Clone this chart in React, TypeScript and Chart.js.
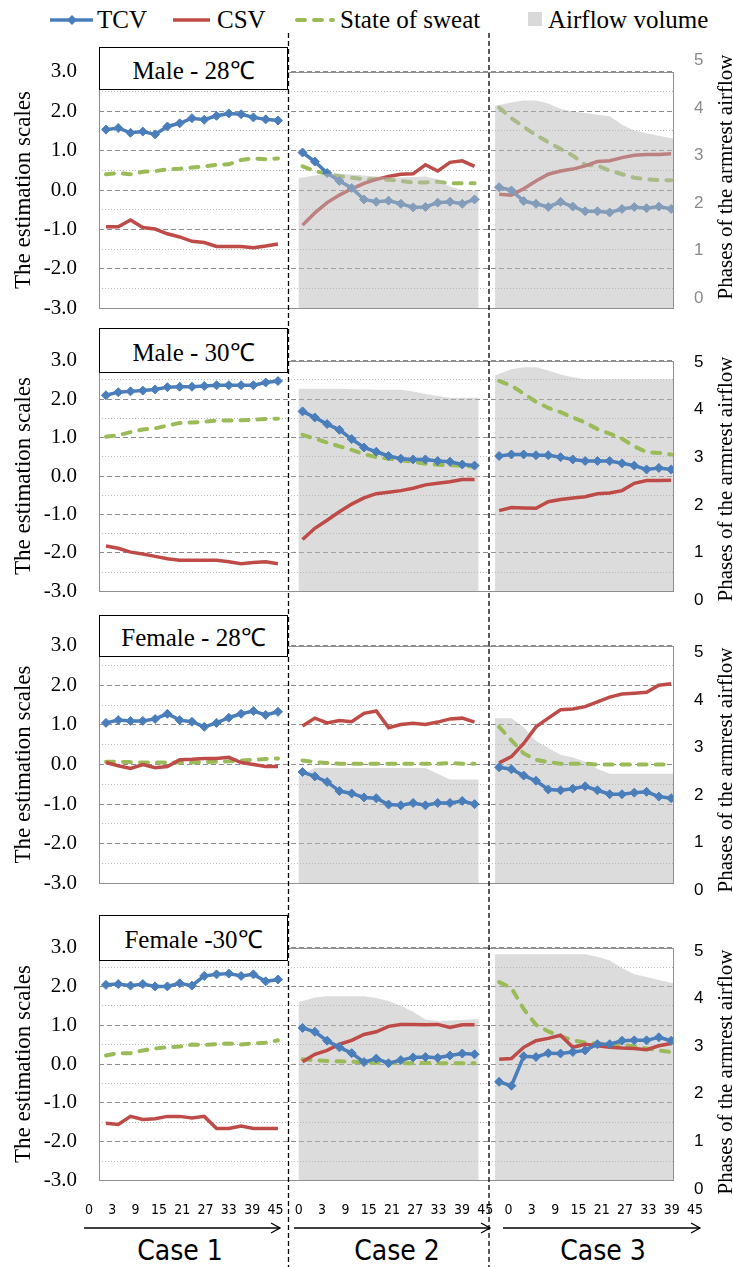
import React, { useEffect, useRef } from "react";
import { Chart, registerables } from "chart.js";

Chart.register(...registerables);

// ---------------- data ----------------
const TIMES = [3, 6, 9, 12, 15, 18, 21, 24, 27, 30, 33, 36, 39, 42, 45];
const AIR_TIMES = [2, 6, 9, 12, 15, 18, 21, 24, 27, 30, 33, 36, 39, 42, 46];
const CASE_NAMES = ["Case 1", "Case 2", "Case 3"];
const AXIS_TICK_LABELS = ["0", "3", "9", "15", "21", "27", "33", "39", "45"];
const LEFT_TICKS = [-3, -2, -1, 0, 1, 2, 3];
const HALF_TICKS = [-2.5, -1.5, -0.5, 0.5, 1.5, 2.5];
const RIGHT_TICKS = [0, 1, 2, 3, 4, 5];
const PANEL_TITLES = ["Male - 28\u2103", "Male - 30\u2103", "Female - 28\u2103", "Female -30\u2103"];
const SERIES_NAMES = ["TCV", "CSV", "State of sweat", "Airflow volume"];

// Male - 28
const M28_TCV = [
  [1.53, 1.57, 1.45, 1.48, 1.41, 1.61, 1.69, 1.82, 1.78, 1.88, 1.94, 1.92, 1.84, 1.79, 1.76],
  [0.95, 0.72, 0.43, 0.23, 0.05, -0.24, -0.3, -0.27, -0.35, -0.44, -0.43, -0.32, -0.3, -0.35, -0.24],
  [0.07, -0.01, -0.28, -0.35, -0.43, -0.3, -0.42, -0.54, -0.54, -0.57, -0.48, -0.43, -0.46, -0.42, -0.48],
];
const M28_CSV = [
  [-0.93, -0.93, -0.76, -0.95, -0.99, -1.11, -1.19, -1.3, -1.33, -1.43, -1.43, -1.43, -1.46, -1.42, -1.37],
  [-0.89, -0.58, -0.32, -0.13, 0.03, 0.17, 0.27, 0.34, 0.4, 0.41, 0.64, 0.48, 0.7, 0.74, 0.6],
  [-0.11, -0.13, 0.03, 0.23, 0.4, 0.48, 0.53, 0.61, 0.72, 0.74, 0.82, 0.88, 0.9, 0.9, 0.92],
];
const M28_SWEAT = [
  [0.4, 0.43, 0.4, 0.46, 0.48, 0.52, 0.54, 0.57, 0.6, 0.64, 0.65, 0.76, 0.8, 0.78, 0.8],
  [0.6, 0.48, 0.41, 0.35, 0.31, 0.27, 0.27, 0.26, 0.23, 0.19, 0.19, 0.21, 0.17, 0.17, 0.17],
  [2.09, 1.82, 1.6, 1.39, 1.21, 1.04, 0.87, 0.64, 0.62, 0.49, 0.4, 0.31, 0.27, 0.25, 0.25],
];
const M28_AIR = [
  [2.52, 2.58, 2.62, 2.62, 2.6, 2.58, 2.56, 2.55, 2.54, 2.55, 2.56, 2.5, 2.35, 2.27, 2.27],
  [4.05, 4.12, 4.16, 4.16, 4.1, 3.98, 3.93, 3.9, 3.86, 3.83, 3.65, 3.53, 3.47, 3.42, 3.35],
];

// Male - 30
const M30_TCV = [
  [2.1, 2.18, 2.2, 2.22, 2.25, 2.31, 2.32, 2.32, 2.34, 2.36, 2.36, 2.36, 2.36, 2.43, 2.47],
  [1.68, 1.52, 1.35, 1.2, 0.96, 0.74, 0.63, 0.52, 0.45, 0.43, 0.43, 0.39, 0.37, 0.3, 0.27],
  [0.52, 0.56, 0.56, 0.54, 0.54, 0.49, 0.43, 0.39, 0.39, 0.39, 0.33, 0.27, 0.17, 0.21, 0.17],
];
const M30_CSV = [
  [-1.82, -1.88, -1.98, -2.03, -2.09, -2.15, -2.19, -2.19, -2.19, -2.19, -2.23, -2.28, -2.25, -2.23, -2.28],
  [-1.65, -1.36, -1.15, -0.93, -0.73, -0.57, -0.46, -0.42, -0.38, -0.32, -0.23, -0.19, -0.15, -0.09, -0.09],
  [-0.9, -0.82, -0.83, -0.84, -0.67, -0.61, -0.57, -0.54, -0.46, -0.44, -0.38, -0.19, -0.12, -0.12, -0.11],
];
const M30_SWEAT = [
  [1.02, 1.06, 1.14, 1.21, 1.24, 1.31, 1.38, 1.39, 1.41, 1.44, 1.44, 1.45, 1.46, 1.48, 1.49],
  [1.07, 0.97, 0.87, 0.77, 0.68, 0.57, 0.49, 0.45, 0.41, 0.37, 0.32, 0.29, 0.28, 0.27, 0.24],
  [2.47, 2.35, 2.14, 1.93, 1.77, 1.66, 1.52, 1.39, 1.22, 1.1, 0.97, 0.77, 0.62, 0.6, 0.56],
];
const M30_AIR = [
  [4.44, 4.44, 4.44, 4.44, 4.43, 4.43, 4.42, 4.42, 4.42, 4.38, 4.33, 4.29, 4.25, 4.25, 4.25],
  [4.72, 4.85, 4.89, 4.89, 4.82, 4.74, 4.68, 4.64, 4.64, 4.64, 4.64, 4.64, 4.64, 4.64, 4.64],
];

// Female - 28
const F28_TCV = [
  [1.05, 1.12, 1.1, 1.1, 1.15, 1.28, 1.12, 1.08, 0.95, 1.05, 1.18, 1.28, 1.35, 1.25, 1.33],
  [-0.19, -0.3, -0.44, -0.67, -0.73, -0.83, -0.85, -1.01, -1.03, -0.97, -1.03, -0.97, -0.97, -0.92, -1.0],
  [-0.07, -0.12, -0.28, -0.41, -0.63, -0.65, -0.61, -0.55, -0.65, -0.75, -0.75, -0.71, -0.69, -0.81, -0.85],
];
const F28_CSV = [
  [0.05, -0.03, -0.1, 0.0, -0.08, -0.05, 0.12, 0.13, 0.15, 0.15, 0.18, 0.05, 0.0, -0.05, -0.05],
  [0.97, 1.17, 1.05, 1.11, 1.08, 1.29, 1.35, 0.93, 1.01, 1.04, 1.01, 1.07, 1.15, 1.17, 1.07],
  [0.04, 0.2, 0.53, 0.95, 1.17, 1.38, 1.4, 1.46, 1.58, 1.7, 1.78, 1.8, 1.82, 2.0, 2.04],
];
const F28_SWEAT = [
  [0.07, 0.07, 0.06, 0.05, 0.05, 0.05, 0.05, 0.05, 0.06, 0.07, 0.08, 0.1, 0.12, 0.14, 0.15],
  [0.1, 0.06, 0.04, 0.02, 0.02, 0.02, 0.02, 0.02, 0.02, 0.02, 0.02, 0.02, 0.04, 0.02, 0.02],
  [0.95, 0.61, 0.28, 0.12, 0.06, 0.02, 0.02, 0.02, 0.0, 0.0, 0.0, 0.0, 0.0, 0.0, 0.0],
];
const F28_AIR = [
  [2.4, 2.57, 2.57, 2.57, 2.57, 2.57, 2.57, 2.57, 2.57, 2.57, 2.57, 2.45, 2.33, 2.33, 2.33],
  [3.62, 3.62, 3.43, 3.14, 2.99, 2.85, 2.79, 2.71, 2.55, 2.45, 2.45, 2.45, 2.45, 2.45, 2.45],
];

// Female - 30
const F30_TCV = [
  [2.04, 2.06, 2.02, 2.06, 2.0, 2.0, 2.08, 2.02, 2.27, 2.31, 2.33, 2.27, 2.31, 2.13, 2.18],
  [0.93, 0.83, 0.6, 0.43, 0.28, 0.05, 0.14, 0.02, 0.1, 0.17, 0.18, 0.16, 0.22, 0.27, 0.25],
  [-0.46, -0.56, 0.2, 0.18, 0.28, 0.27, 0.31, 0.35, 0.51, 0.51, 0.6, 0.61, 0.61, 0.69, 0.6],
];
const F30_CSV = [
  [-1.53, -1.56, -1.35, -1.43, -1.41, -1.35, -1.35, -1.39, -1.35, -1.66, -1.66, -1.6, -1.66, -1.66, -1.66],
  [0.06, 0.25, 0.35, 0.51, 0.61, 0.76, 0.83, 0.97, 1.02, 1.02, 1.01, 1.02, 0.94, 1.01, 1.01],
  [0.12, 0.14, 0.43, 0.6, 0.66, 0.74, 0.43, 0.51, 0.47, 0.43, 0.41, 0.4, 0.37, 0.47, 0.53],
];
const F30_SWEAT = [
  [0.22, 0.28, 0.28, 0.35, 0.4, 0.43, 0.45, 0.5, 0.49, 0.51, 0.53, 0.5, 0.53, 0.55, 0.61],
  [0.12, 0.1, 0.08, 0.07, 0.06, 0.04, 0.03, 0.03, 0.02, 0.02, 0.03, 0.02, 0.02, 0.02, 0.02],
  [2.11, 1.96, 1.42, 1.01, 0.84, 0.72, 0.61, 0.55, 0.53, 0.51, 0.5, 0.45, 0.4, 0.35, 0.31],
];
const F30_AIR = [
  [3.92, 4.02, 4.05, 4.05, 4.05, 4.05, 4.01, 3.95, 3.85, 3.72, 3.56, 3.53, 3.54, 3.55, 3.57],
  [4.93, 4.93, 4.93, 4.93, 4.93, 4.93, 4.93, 4.93, 4.88, 4.8, 4.64, 4.51, 4.45, 4.39, 4.31],
];

const PANEL_SERIES = [
  { tcv: M28_TCV, csv: M28_CSV, sweat: M28_SWEAT, air: M28_AIR },
  { tcv: M30_TCV, csv: M30_CSV, sweat: M30_SWEAT, air: M30_AIR },
  { tcv: F28_TCV, csv: F28_CSV, sweat: F28_SWEAT, air: F28_AIR },
  { tcv: F30_TCV, csv: F30_CSV, sweat: F30_SWEAT, air: F30_AIR },
];

// ---------------- styles / layout ----------------
const BLUE = "#4A7EBB";
const RED = "#BE4B48";
const GREEN = "#9BBB59";
const AIR_FILL = "rgba(186,186,186,0.5)";
const AIR_LEGEND = "#D9D9D9";
const SERIF = '"Liberation Serif", "Times New Roman", serif';
const SANS = '"Liberation Sans", Arial, sans-serif';
const NARROW = '"Liberation Sans Narrow", "DejaVu Sans Condensed", "Liberation Sans", sans-serif';

const W = 733;
const H = 1267;
const CASE_SHIFT = 48;
const X_MIN = 1.3;
const X_MAX = 141.7;
const PAD = 30;
const LEFT_W = 99;
const RIGHT_W = 59;

const LAYOUT = [
  { top: 67, bottom: 313, y2min: -0.22, y2max: 4.77, boxTop: 47, boxH: 43, rightColor: "#8a8a8a", airOnTop: true, rightTitleY: 177 },
  { top: 356, bottom: 596, y2min: 0.19, y2max: 5.03, boxTop: 328, boxH: 45, rightColor: "#000000", airOnTop: false, rightTitleY: 479 },
  { top: 641, bottom: 888, y2min: 0.14, y2max: 5.15, boxTop: 615, boxH: 42, rightColor: "#000000", airOnTop: false, rightTitleY: 770 },
  { top: 943, bottom: 1185, y2min: 0.18, y2max: 5.07, boxTop: 915, boxH: 46, rightColor: "#000000", airOnTop: false, rightTitleY: 1072 },
];

const frame = {
  id: "frame",
  afterDraw(chart: any) {
    const { ctx, chartArea: a } = chart;
    ctx.save();
    ctx.strokeStyle = "#8f8f8f";
    ctx.lineWidth = 1;
    ctx.setLineDash([]);
    ctx.strokeRect(Math.round(a.left) + 0.5, Math.round(a.top) + 0.5, Math.round(a.right - a.left) - 1, Math.round(a.bottom - a.top) - 1);
    ctx.restore();
  },
};

function caseX(c: number, t: number) {
  return c * CASE_SHIFT + t;
}

function buildDatasets(s: any, airOnTop: boolean) {
  const ds: any[] = [];
  for (let c = 0; c < 3; c++) {
    ds.push({
      label: SERIES_NAMES[0],
      data: TIMES.map((t, i) => ({ x: caseX(c, t), y: s.tcv[c][i] })),
      borderColor: BLUE,
      backgroundColor: BLUE,
      borderWidth: 3.5,
      pointStyle: "rectRot",
      pointRadius: 4.5,
      pointBackgroundColor: BLUE,
      pointBorderColor: BLUE,
      pointBorderWidth: 1,
      yAxisID: "y",
      order: 1,
    });
    ds.push({
      label: SERIES_NAMES[1],
      data: TIMES.map((t, i) => ({ x: caseX(c, t), y: s.csv[c][i] })),
      borderColor: RED,
      backgroundColor: RED,
      borderWidth: 3.5,
      pointRadius: 0,
      yAxisID: "y",
      order: 2,
    });
    ds.push({
      label: SERIES_NAMES[2],
      data: TIMES.map((t, i) => ({ x: caseX(c, t), y: s.sweat[c][i] })),
      borderColor: GREEN,
      backgroundColor: GREEN,
      borderWidth: 4,
      borderDash: [8, 9],
      borderCapStyle: "round",
      pointRadius: 0,
      yAxisID: "y",
      order: 3,
    });
  }
  s.air.forEach((vals: number[], k: number) => {
    const c = k + 1;
    ds.push({
      label: SERIES_NAMES[3],
      data: AIR_TIMES.map((t, i) => ({ x: caseX(c, t), y: vals[i] })),
      borderColor: "rgba(0,0,0,0)",
      backgroundColor: AIR_FILL,
      borderWidth: 0,
      pointRadius: 0,
      fill: "start",
      yAxisID: "y2",
      order: airOnTop ? 0 : 10,
    });
  });
  return ds;
}

function Panel({ idx }: { idx: number }) {
  const ref = useRef<HTMLCanvasElement>(null);
  const L = LAYOUT[idx];
  useEffect(() => {
    const chart = new Chart(ref.current as HTMLCanvasElement, {
      type: "line",
      data: { datasets: buildDatasets(PANEL_SERIES[idx], L.airOnTop) },
      plugins: [frame],
      options: {
        responsive: false,
        animation: false,
        devicePixelRatio: 1,
        layout: { padding: { top: PAD, bottom: PAD, left: 0, right: 0 } },
        plugins: { legend: { display: false }, tooltip: { enabled: false } },
        elements: { line: { tension: 0 } },
        scales: {
          x: { type: "linear", min: X_MIN, max: X_MAX, display: false },
          y: {
            position: "left",
            min: -3,
            max: 3,
            afterBuildTicks: (sc: any) => {
              sc.ticks = LEFT_TICKS.map((v) => ({ value: v }));
            },
            afterFit: (sc: any) => {
              sc.width = LEFT_W;
            },
            ticks: {
              callback: (v: any) => Number(v).toFixed(1),
              font: { family: SERIF, size: 21 },
              color: "#000",
              padding: 22,
            },
            grid: { color: "#8c8c8c", lineWidth: 1, drawTicks: false },
            border: { display: false, dash: [5, 3] },
            title: {
              display: true,
              text: "The estimation scales",
              font: { family: SERIF, size: 23 },
              color: "#000",
              padding: { top: 10, bottom: 0 },
            },
          },
          yh: {
            position: "left",
            min: -3,
            max: 3,
            afterBuildTicks: (sc: any) => {
              sc.ticks = HALF_TICKS.map((v) => ({ value: v }));
            },
            afterFit: (sc: any) => {
              sc.width = 0;
            },
            ticks: { display: false },
            grid: { color: "#bdbdbd", lineWidth: 1, drawTicks: false },
            border: { display: false, dash: [1, 2] },
          },
          y2: {
            position: "right",
            min: L.y2min,
            max: L.y2max,
            afterBuildTicks: (sc: any) => {
              sc.ticks = RIGHT_TICKS.map((v) => ({ value: v }));
            },
            afterFit: (sc: any) => {
              sc.width = RIGHT_W;
            },
            ticks: {
              callback: (v: any) => String(v),
              font: { family: SANS, size: 17 },
              color: L.rightColor,
              padding: 20,
            },
            grid: { display: false, drawTicks: false },
            border: { display: false },
          },
        },
      } as any,
    });
    return () => chart.destroy();
  }, [idx]);
  return (
    <canvas
      ref={ref}
      width={W}
      height={L.bottom - L.top + 2 * PAD}
      style={{ position: "absolute", left: 0, top: L.top - PAD, width: W, height: L.bottom - L.top + 2 * PAD }}
    />
  );
}

function AxisLabels() {
  const ref = useRef<HTMLCanvasElement>(null);
  const labels = CASE_NAMES.flatMap(() => AXIS_TICK_LABELS);
  useEffect(() => {
    const chart = new Chart(ref.current as HTMLCanvasElement, {
      type: "line",
      data: { datasets: [] },
      options: {
        responsive: false,
        animation: false,
        devicePixelRatio: 1,
        layout: { padding: { left: 89, right: 38, top: 0, bottom: 0 } },
        plugins: { legend: { display: false }, tooltip: { enabled: false } },
        scales: {
          x: {
            type: "linear",
            min: 0,
            max: labels.length - 1,
            afterBuildTicks: (sc: any) => {
              sc.ticks = labels.map((_, i) => ({ value: i }));
            },
            ticks: {
              callback: (v: any) => labels[v],
              font: { family: NARROW, size: 14 },
              color: "#000",
              padding: 0,
              maxRotation: 0,
              autoSkip: false,
            },
            grid: { display: false, drawTicks: false },
            border: { display: false },
          },
          y: { display: false },
        },
      } as any,
    });
    return () => chart.destroy();
  }, []);
  return <canvas ref={ref} width={W} height={30} style={{ position: "absolute", left: 0, top: 1187, width: W, height: 30 }} />;
}

const legendText: React.CSSProperties = {
  position: "absolute",
  top: 7,
  fontFamily: SERIF,
  fontSize: 25,
  lineHeight: "25px",
  whiteSpace: "nowrap",
  color: "#000",
};

function Legend() {
  return (
    <>
      <svg width={W} height={40} style={{ position: "absolute", left: 0, top: 0 }}>
        <line x1={50} y1={20} x2={93} y2={20} stroke={BLUE} strokeWidth={3.5} />
        <polygon points="72,15 77,20 72,25 67,20" fill={BLUE} />
        <line x1={173} y1={20} x2={210} y2={20} stroke={RED} strokeWidth={3.5} />
        <line x1={297} y1={20} x2={333} y2={20} stroke={GREEN} strokeWidth={4} strokeDasharray="8 9" strokeLinecap="round" />
        <rect x={528} y={12} width={14} height={14} fill={AIR_LEGEND} />
      </svg>
      <span style={{ ...legendText, left: 97 }}>{SERIES_NAMES[0]}</span>
      <span style={{ ...legendText, left: 217 }}>{SERIES_NAMES[1]}</span>
      <span style={{ ...legendText, left: 340 }}>{SERIES_NAMES[2]}</span>
      <span style={{ ...legendText, left: 548 }}>{SERIES_NAMES[3]}</span>
    </>
  );
}

const SEPARATORS = [288.5, 489];
const ARROWS = [
  [84, 280],
  [294, 490],
  [503, 700],
];
const ARROW_Y = 1228;
const CASE_LABEL_X = [180, 397, 603];

function Overlay() {
  return (
    <svg width={W} height={H} style={{ position: "absolute", left: 0, top: 0, pointerEvents: "none" }}>
      {SEPARATORS.map((x, i) => (
        <line key={"s" + i} x1={x} y1={33} x2={x} y2={H} stroke="#000" strokeWidth={1.3} strokeDasharray="5 3" />
      ))}
      {ARROWS.map(([a, b], i) => (
        <g key={"a" + i} stroke="#000" strokeWidth={1.3} fill="none">
          <line x1={a} y1={ARROW_Y} x2={b} y2={ARROW_Y} />
          <polyline points={`${b - 9},${ARROW_Y - 5} ${b},${ARROW_Y} ${b - 9},${ARROW_Y + 5}`} />
        </g>
      ))}
    </svg>
  );
}

export default function App() {
  return (
    <div style={{ position: "absolute", left: 0, top: 0, width: W, height: H, background: "#fff", overflow: "hidden" }}>
      <Legend />
      {LAYOUT.map((L, i) => (
        <Panel key={i} idx={i} />
      ))}
      {LAYOUT.map((L, i) => (
        <div
          key={"box" + i}
          style={{
            position: "absolute",
            left: LEFT_W,
            top: L.boxTop,
            width: 189,
            height: L.boxH,
            boxSizing: "border-box",
            border: "1px solid #000",
            background: "#fff",
            display: "flex",
            alignItems: "center",
            justifyContent: "center",
            fontFamily: SERIF,
            fontSize: 25,
            whiteSpace: "nowrap",
          }}
        >
          {PANEL_TITLES[i]}
        </div>
      ))}
      {LAYOUT.map((L, i) => (
        <div
          key={"rt" + i}
          style={{
            position: "absolute",
            left: 725,
            top: L.rightTitleY,
            transform: "translate(-50%, -50%) rotate(-90deg)",
            fontFamily: SERIF,
            fontSize: 21,
            whiteSpace: "nowrap",
            color: "#000",
          }}
        >
          Phases of the armrest airflow
        </div>
      ))}
      <AxisLabels />
      {CASE_NAMES.map((n, i) => (
        <div
          key={"c" + i}
          style={{
            position: "absolute",
            left: CASE_LABEL_X[i],
            top: 1250,
            transform: "translate(-50%, -50%)",
            fontFamily: NARROW,
            fontSize: 28,
            whiteSpace: "nowrap",
          }}
        >
          {n}
        </div>
      ))}
      <Overlay />
    </div>
  );
}
